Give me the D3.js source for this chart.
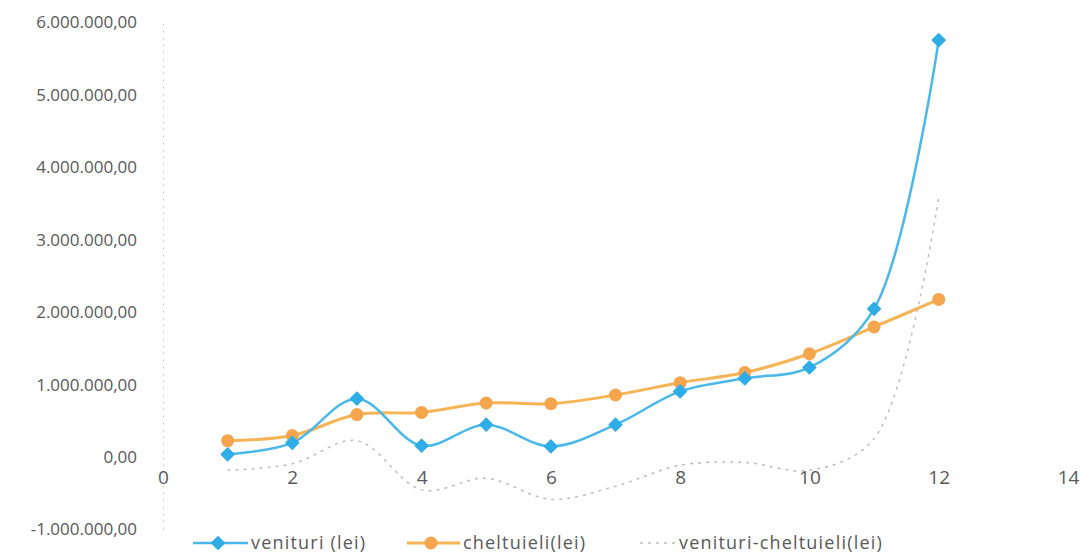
<!DOCTYPE html>
<html>
<head>
<meta charset="utf-8">
<script src="https://cdn.jsdelivr.net/npm/d3@7"></script>
<style>
  body { margin: 0; background: #fff; }
  text { font-family: 'Open Sans', sans-serif; fill: #595959; }
</style>
</head>
<body>
<script>
// luni 1..12, valori in lei
var luni = [1, 2, 3, 4, 5, 6, 7, 8, 9, 10, 11, 12];
var venituri = [30000, 190000, 800000, 150000, 440000, 140000, 440000, 900000, 1080000, 1230000, 2040000, 5750000];
var cheltuieli = [220000, 290000, 580000, 610000, 740000, 730000, 850000, 1020000, 1160000, 1420000, 1790000, 2170000];
var diferenta = venituri.map(function(v, i){ return v - cheltuieli[i]; });
var xTicks = [0, 2, 4, 6, 8, 10, 12, 14];
var yTicks = [-1000000, 0, 1000000, 2000000, 3000000, 4000000, 5000000, 6000000];
var serii = ['venituri (lei)', 'cheltuieli(lei)', 'venituri-cheltuieli(lei)'];

var width = 1091, height = 553;
var svg = d3.select('body').append('svg')
    .attr('width', width)
    .attr('height', height);

var x = d3.scaleLinear().domain([0, 14]).range([163, 1068]);
var y = d3.scaleLinear().domain([-1000000, 6000000]).range([529, 22]);

// format romanesc 6.000.000,00
var ro = d3.formatLocale({decimal: ',', thousands: '.', grouping: [3], currency: ['', ' lei'], minus: '-'});
var fmt = ro.format(',.2f');

// axa y
var yAxis = d3.axisLeft(y).tickValues(yTicks).tickFormat(fmt).tickSize(0).tickPadding(26);
var gy = svg.append('g').attr('transform', 'translate(' + x(0) + ',0)').call(yAxis);
gy.select('.domain')
    .attr('stroke', '#c8c8c8')
    .attr('stroke-width', 1)
    .attr('stroke-dasharray', '2,5');
gy.selectAll('text').style('font-size', '17px').attr('fill', '#595959').attr('dy', '0.35em');

// axa x (la y=0)
var xAxis = d3.axisBottom(x).tickValues(xTicks).tickSize(0).tickPadding(14);
var gx = svg.append('g').attr('transform', 'translate(0,' + y(0) + ')').call(xAxis);
gx.select('.domain').remove();
gx.selectAll('text').style('font-size', '19px').attr('fill', '#595959');

var curve = d3.curveCatmullRom.alpha(0.5);
var line = d3.line()
    .x(function(d){ return x(d[0]); })
    .y(function(d){ return y(d[1]); })
    .curve(curve);

function pairs(vals){ return luni.map(function(l, i){ return [l, vals[i]]; }); }

// diferenta: linie gri slaba, punctata
svg.append('path')
    .datum(pairs(diferenta))
    .attr('fill', 'none')
    .attr('stroke', '#bdbdbd')
    .attr('stroke-width', 1.5)
    .attr('stroke-dasharray', '3,5')
    .attr('d', line);

// cheltuieli
svg.append('path')
    .datum(pairs(cheltuieli))
    .attr('fill', 'none')
    .attr('stroke', '#f7b457')
    .attr('stroke-width', 3)
    .attr('d', line);

// venituri
svg.append('path')
    .datum(pairs(venituri))
    .attr('fill', 'none')
    .attr('stroke', '#4ab8ea')
    .attr('stroke-width', 2.5)
    .attr('d', line);

var diamond = d3.symbol().type(d3.symbolSquare).size(80);

svg.selectAll('.mk-ch')
    .data(pairs(cheltuieli))
    .enter().append('circle')
    .attr('class', 'mk-ch')
    .attr('cx', function(d){ return x(d[0]); })
    .attr('cy', function(d){ return y(d[1]); })
    .attr('r', 6.5)
    .attr('fill', '#f5a54e');

svg.selectAll('.mk-ve')
    .data(pairs(venituri))
    .enter().append('path')
    .attr('class', 'mk-ve')
    .attr('transform', function(d){ return 'translate(' + x(d[0]) + ',' + y(d[1]) + ') rotate(45)'; })
    .attr('d', diamond)
    .attr('stroke', '#2eade6')
    .attr('stroke-width', 1.5)
    .attr('stroke-linejoin', 'round')
    .attr('fill', '#2eade6');

// legenda
var ly = 543;
var leg = svg.append('g');
leg.append('line').attr('x1', 193).attr('x2', 248).attr('y1', ly).attr('y2', ly)
    .attr('stroke', '#4ab8ea').attr('stroke-width', 2.5);
leg.append('path').attr('transform', 'translate(218,' + ly + ') rotate(45)').attr('d', diamond)
    .attr('stroke', '#2eade6').attr('stroke-width', 1.5).attr('stroke-linejoin', 'round').attr('fill', '#2eade6');
leg.append('text').attr('x', 251).attr('y', ly).attr('dy', '0.35em').style('font-size', '18px').style('letter-spacing', '1.2px').text(serii[0]);

leg.append('line').attr('x1', 407).attr('x2', 460).attr('y1', ly).attr('y2', ly)
    .attr('stroke', '#f7b457').attr('stroke-width', 3);
leg.append('circle').attr('cx', 431).attr('cy', ly).attr('r', 6.5).attr('fill', '#f5a54e');
leg.append('text').attr('x', 463).attr('y', ly).attr('dy', '0.35em').style('font-size', '18px').style('letter-spacing', '1.2px').text(serii[1]);

leg.append('line').attr('x1', 640).attr('x2', 677).attr('y1', ly).attr('y2', ly)
    .attr('stroke', '#bdbdbd').attr('stroke-width', 1.5).attr('stroke-dasharray', '3,5');
leg.append('text').attr('x', 679).attr('y', ly).attr('dy', '0.35em').style('font-size', '18px').style('letter-spacing', '1.2px').text(serii[2]);
</script>
</body>
</html>
